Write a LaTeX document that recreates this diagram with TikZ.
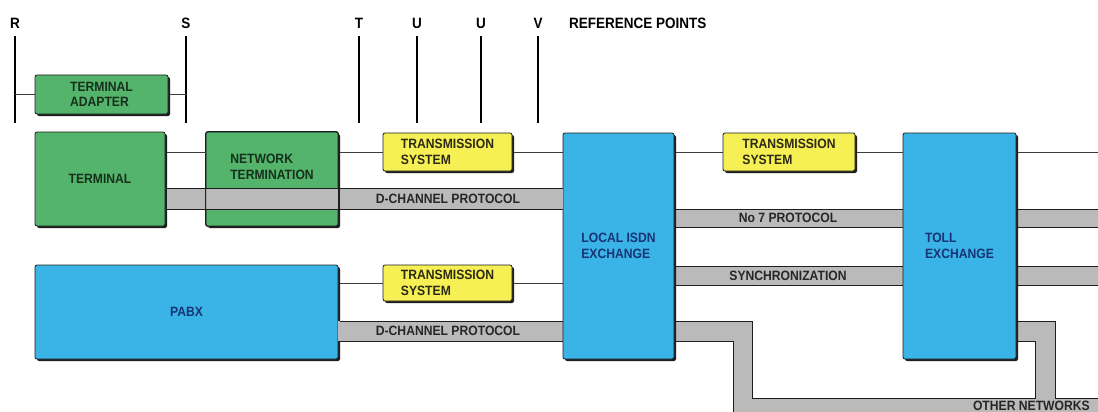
\documentclass[tikz,border=0pt]{standalone}
\usepackage{fontspec}
\setmainfont{Liberation Sans}[FakeStretch=0.9]
\usetikzlibrary{shadows}
\definecolor{boxgreen}{RGB}{84,180,108}
\definecolor{boxblue}{RGB}{58,180,230}
\definecolor{boxyellow}{RGB}{246,240,84}
\definecolor{bandgray}{RGB}{186,186,186}
\definecolor{edgecol}{RGB}{30,30,30}
\definecolor{conncol}{RGB}{60,60,60}
\definecolor{greentext}{RGB}{22,48,28}
\definecolor{bluetext}{RGB}{22,52,118}
\definecolor{yellowtext}{RGB}{45,42,20}
\begin{document}
\begin{tikzpicture}[x=1pt,y=-1pt,
  box/.style={draw=edgecol, line width=0.8pt, rounded corners=2pt, inner sep=0pt,
    general shadow={fill=edgecol, shadow xshift=2pt, shadow yshift=-2pt},
    align=left, font=\bfseries\fontsize{13.5}{15.5}\selectfont},
  greenbox/.style={box, fill=boxgreen, text=greentext},
  bluebox/.style={box, fill=boxblue, text=bluetext},
  yellowbox/.style={box, fill=boxyellow, text=yellowtext},
  lbl/.style={inner sep=0pt, align=left, font=\bfseries\fontsize{13.5}{15.5}\selectfont},
  bandtext/.style={inner sep=0pt, font=\bfseries\fontsize{13.5}{15.5}\selectfont, text=black!85},
  reflabel/.style={inner sep=0pt, font=\bfseries\fontsize{15}{17}\selectfont},
  refline/.style={draw=black, line width=1.3pt},
  conn/.style={draw=conncol, line width=0.9pt},
  bandfill/.style={fill=bandgray},
  bandedge/.style={draw=edgecol, line width=1pt}
]
\useasboundingbox (0,0) rectangle (1098,412);
\fill[white] (0,0) rectangle (1098,412);

% reference points
\node[reflabel] (lR) at (15,23) {R};
\node[reflabel] (lS) at (186,23) {S};
\node[reflabel] (lT) at (359,23) {T};
\node[reflabel] (lU1) at (417,23) {U};
\node[reflabel] (lU2) at (481,23) {U};
\node[reflabel] (lV) at (538,23) {V};
\node[reflabel, anchor=west] (lRP) at (569,23) {REFERENCE POINTS};
\coordinate (Rt) at (15,36);  \coordinate (Rb) at (15,123);
\coordinate (St) at (186,36); \coordinate (Sb) at (186,123);
\coordinate (Tt) at (359,36); \coordinate (Tb) at (359,123);
\coordinate (U1t) at (417,36); \coordinate (U1b) at (417,123);
\coordinate (U2t) at (481,36); \coordinate (U2b) at (481,123);
\coordinate (Vt) at (538,36); \coordinate (Vb) at (538,123);
\foreach \a/\b in {Rt/Rb,St/Sb,Tt/Tb,U1t/U1b,U2t/U2b,Vt/Vb}
  \draw[refline] (\a) -- (\b);

% boxes
\node[greenbox, minimum width=133pt, minimum height=39pt] (ta) at (101.5,94.5) {TERMINAL\\ADAPTER};
\node[greenbox, minimum width=130pt, minimum height=94pt] (term) at (100,179) {TERMINAL};
\node[greenbox, minimum width=132pt, minimum height=94pt] (nt) at (272,179) {};
\node[yellowbox, minimum width=129pt, minimum height=38pt] (ts1) at (447.5,152) {TRANSMISSION\\SYSTEM};
\node[yellowbox, minimum width=132pt, minimum height=38pt] (ts2) at (789,152) {TRANSMISSION\\SYSTEM};
\node[yellowbox, minimum width=129pt, minimum height=36pt] (ts3) at (447.5,283) {TRANSMISSION\\SYSTEM};
\node[bluebox, minimum width=303pt, minimum height=94pt] (pabx) at (186.5,312) {PABX};

% other networks bands (under the exchanges)
\coordinate (edgeR) at (1098,0);
\coordinate (oA) at (752,321);
\coordinate (oB) at (752,398);
\coordinate (oC) at (1035,398);
\coordinate (oD) at (1035,341);
\coordinate (oE) at (733,341);
\coordinate (oF) at (733,420);
\coordinate (oG) at (1055,321);
\coordinate (oH) at (1055,398);
\coordinate (oI) at (1098,398);
\coordinate (oJ) at (1098,420);
\fill[bandfill] (650,321) rectangle (oA |- oE);
\fill[bandfill] (oA -| oE) rectangle (oA |- oF);
\fill[bandfill] (oE |- oB) rectangle (oJ);
\fill[bandfill] (1000,321) rectangle (oG |- oD);
\fill[bandfill] (oD |- oG) rectangle (oH);
% No 7 and synchronization bands
\fill[bandfill] (650,209) rectangle (1098,227);
\fill[bandfill] (650,266) rectangle (1098,285);
% lower D-channel band
\fill[bandfill] (pabx.east |- 0,321) rectangle (600,341);

\node[bluebox, minimum width=111pt, minimum height=226pt] (le) at (618.5,246) {LOCAL ISDN\\EXCHANGE};
\node[bluebox, minimum width=113pt, minimum height=226pt] (toll) at (959.5,246) {TOLL\\EXCHANGE};

% band edges
\draw[bandedge] ([xshift=2pt]le.east |- 0,209) -- (toll.west |- 0,209);
\draw[bandedge] ([xshift=2pt]le.east |- 0,227) -- (toll.west |- 0,227);
\draw[bandedge] ([xshift=2pt]toll.east |- 0,209) -- (edgeR |- 0,209);
\draw[bandedge] ([xshift=2pt]toll.east |- 0,227) -- (edgeR |- 0,227);
\draw[bandedge] ([xshift=2pt]le.east |- 0,266) -- (toll.west |- 0,266);
\draw[bandedge] ([xshift=2pt]le.east |- 0,285) -- (toll.west |- 0,285);
\draw[bandedge] ([xshift=2pt]toll.east |- 0,266) -- (edgeR |- 0,266);
\draw[bandedge] ([xshift=2pt]toll.east |- 0,285) -- (edgeR |- 0,285);
\draw[bandedge] ([xshift=2pt]pabx.east |- 0,321) -- (le.west |- 0,321);
\draw[bandedge] ([xshift=2pt]pabx.east |- 0,341) -- (le.west |- 0,341);
\draw[bandedge] ([xshift=2pt]le.east |- oA) -- (oA) -- (oB) -- (oC) -- (oD) -- ([xshift=2pt]toll.east |- oD);
\draw[bandedge] ([xshift=2pt]le.east |- oE) -- (oE) -- (oF);
\draw[bandedge] ([xshift=2pt]toll.east |- oG) -- (oG) -- (oH) -- (oI);

% upper D-channel band (passes over the network termination)
\fill[bandfill] ([xshift=2pt]term.east |- 0,188) rectangle (le.west |- 0,209);
\draw[bandedge] ([xshift=2pt]term.east |- 0,188) -- (le.west |- 0,188);
\draw[bandedge] ([xshift=2pt]term.east |- 0,209) -- (le.west |- 0,209);
\draw[draw=edgecol, line width=0.8pt, rounded corners=2pt] (nt.north west) rectangle (nt.south east);
\draw[draw=edgecol, line width=2pt] ([xshift=1pt]nt.north east |- 0,188) -- ([xshift=1pt]nt.north east |- 0,209);
\node[lbl, text=greentext] (ntlab) at ([yshift=12pt]nt.center) {NETWORK\\TERMINATION};

% band labels
\node[bandtext] (dch1) at (448,199) {D-CHANNEL PROTOCOL};
\node[bandtext] (dch2) at (448,331) {D-CHANNEL PROTOCOL};
\node[bandtext] (no7) at (788,218) {No 7 PROTOCOL};
\node[bandtext] (sync) at (788,275.5) {SYNCHRONIZATION};
\node[bandtext, anchor=base east] (other) at (1090,410.5) {OTHER NETWORKS};

% thin connectors
\draw[conn] (ta.west) -- (ta.west -| Rt);
\draw[conn] ([xshift=2pt]ta.east) -- (ta.east -| St);
\draw[conn] ([xshift=2pt]term.east |- ts1.west) -- (nt.west |- ts1.west);
\draw[conn] ([xshift=2pt]nt.east |- ts1.west) -- (ts1.west);
\draw[conn] ([xshift=2pt]ts1.east) -- (ts1.east -| le.west);
\draw[conn] ([xshift=2pt]le.east |- ts2.west) -- (ts2.west);
\draw[conn] ([xshift=2pt]ts2.east) -- (ts2.east -| toll.west);
\draw[conn] ([xshift=2pt]toll.east |- ts2.east) -- (edgeR |- ts2.east);
\draw[conn] ([xshift=2pt]pabx.east |- ts3.west) -- (ts3.west);
\draw[conn] ([xshift=2pt]ts3.east) -- (ts3.east -| le.west);
\end{tikzpicture}
\end{document}
